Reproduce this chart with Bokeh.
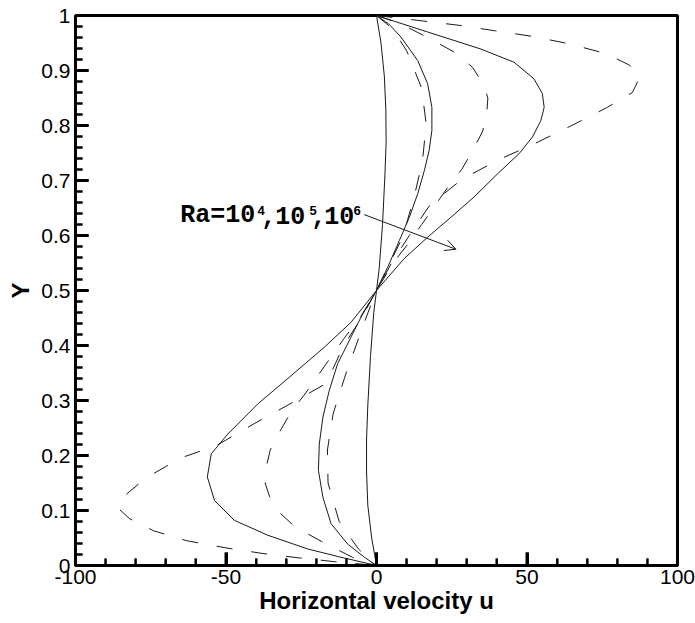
from bokeh.plotting import figure
from bokeh.models import Range1d, FixedTicker, Arrow, OpenHead
from bokeh.core.properties import value
from bokeh.embed import file_html
from bokeh.resources import INLINE

# ---------------- data ----------------
y_s1 = [1.0, 0.95, 0.89, 0.83, 0.77, 0.71, 0.62, 0.54, 0.5, 0.46, 0.38, 0.29, 0.23, 0.17, 0.11, 0.05, 0.0]
u_s1 = [0.0, 1.5, 2.6, 3.1, 3.2, 2.8, 2.0, 0.9, 0.0, -0.9, -2.0, -2.9, -3.3, -3.3, -2.9, -1.6, 0.0]

y_s2 = [1.0, 0.985, 0.961, 0.918, 0.876, 0.833, 0.791, 0.755, 0.718, 0.676, 0.633, 0.591, 0.542, 0.5,
        0.452, 0.415, 0.367, 0.318, 0.27, 0.221, 0.173, 0.124, 0.076, 0.039, 0.015, 0.0]
u_s2 = [0.0, 4.0, 8.1, 13.7, 17.0, 18.4, 18.4, 17.5, 15.9, 13.7, 10.9, 7.6, 3.7, 0.0,
        -5.1, -8.5, -12.9, -15.7, -17.8, -19.0, -19.3, -17.8, -15.1, -9.6, -4.0, 0.0]

y_s3 = [1.0, 0.970, 0.939, 0.915, 0.885, 0.858, 0.833, 0.809, 0.779, 0.749, 0.712, 0.670, 0.633, 0.597, 0.558, 0.5,
        0.442, 0.397, 0.345, 0.294, 0.239, 0.203, 0.161, 0.118, 0.082, 0.055, 0.030, 0.015, 0.0]
u_s3 = [0.0, 17.0, 34.7, 45.7, 52.3, 55.1, 55.7, 54.6, 51.8, 47.4, 40.2, 32.4, 24.7, 17.0, 9.2, 0.0,
        -8.5, -17.3, -28.4, -39.4, -49.4, -54.9, -56.2, -53.8, -47.2, -36.1, -22.8, -11.8, 0.0]

y_d1 = [1.0, 0.975, 0.935, 0.868, 0.803, 0.736, 0.670, 0.597, 0.545, 0.5,
        0.45, 0.40, 0.345, 0.276, 0.21, 0.15, 0.08, 0.03, 0.0]
u_d1 = [0.0, 5.5, 10.1, 15.0, 16.5, 15.3, 12.5, 8.7, 4.0, 0.0,
        -3.5, -6.8, -10.4, -14.4, -16.3, -16.1, -12.4, -6.0, 0.0]

y_d2 = [1.0, 0.985, 0.96, 0.93, 0.905, 0.875, 0.85, 0.82, 0.79, 0.76, 0.72, 0.69, 0.655, 0.62, 0.585, 0.55, 0.5,
        0.45, 0.415, 0.38, 0.345, 0.31, 0.28, 0.24, 0.21, 0.18, 0.15, 0.125, 0.095, 0.07, 0.04, 0.015, 0.0]
u_d2 = [0.0, 8.0, 17.0, 27.0, 32.0, 35.5, 37.0, 36.6, 35.3, 32.5, 28.3, 24.0, 19.5, 15.0, 10.5, 5.5, 0.0,
        -5.5, -10.5, -15.0, -19.5, -24.0, -28.3, -32.5, -35.3, -36.6, -37.0, -35.5, -32.0, -27.0, -17.0, -8.0, 0.0]

y_d3 = [1.0, 0.990, 0.982, 0.972, 0.962, 0.949, 0.931, 0.91, 0.888, 0.86, 0.833, 0.799, 0.768, 0.738, 0.703, 0.656, 0.600, 0.55, 0.5,
        0.45, 0.40, 0.331, 0.293, 0.258, 0.218, 0.196, 0.16, 0.13, 0.105, 0.085, 0.063, 0.045, 0.032, 0.022, 0.014, 0.007, 0.0]
u_d3 = [0.0, 15.5, 27.7, 39.6, 51.8, 63.6, 76.1, 84.0, 87.5, 85.0, 76.7, 64.5, 52.9, 40.7, 28.6, 17.8, 10.9, 5.0, 0.0,
        -5.0, -10.9, -16.7, -29.0, -40.6, -53.2, -64.8, -76.4, -83.0, -86.0, -82.0, -74.0, -63.0, -50.0, -38.0, -26.0, -14.0, 0.0]

# axes ticks
x_ticks = [-100, -50, 0, 50, 100]
x_tick_labels = ["-100", "-50", "0", "50", "100"]
x_minor = [-90, -80, -70, -60, -40, -30, -20, -10, 10, 20, 30, 40, 60, 70, 80, 90]
y_ticks = [0, 0.1, 0.2, 0.3, 0.4, 0.5, 0.6, 0.7, 0.8, 0.9, 1]
y_tick_labels = ["0", "0.1", "0.2", "0.3", "0.4", "0.5", "0.6", "0.7", "0.8", "0.9", "1"]
y_minor = [0.02, 0.04, 0.06, 0.08, 0.12, 0.14, 0.16, 0.18, 0.22, 0.24, 0.26, 0.28,
           0.32, 0.34, 0.36, 0.38, 0.42, 0.44, 0.46, 0.48, 0.52, 0.54, 0.56, 0.58,
           0.62, 0.64, 0.66, 0.68, 0.72, 0.74, 0.76, 0.78, 0.82, 0.84, 0.86, 0.88,
           0.92, 0.94, 0.96, 0.98]

# annotation
label_pos = (-65.2, 0.636)
label_main = ["Ra=10", ",", "10", ",", "10"]
label_sup = ["4", "5", "6"]
arrow_start = (-4.1, 0.638)
arrow_end = (26.4, 0.575)

# ---------------- figure ----------------
X0, X1, Y0, Y1 = -100, 100, 0, 1
p = figure(width=695, height=623, x_range=Range1d(X0, X1), y_range=Range1d(Y0, Y1),
           output_backend="svg", toolbar_location=None,
           min_border_left=75, min_border_right=18, min_border_top=15, min_border_bottom=58)
p.xgrid.visible = False
p.ygrid.visible = False
p.background_fill_color = "white"
p.border_fill_color = "white"
p.outline_line_color = "black"
p.outline_line_width = 3

line_col = "#1a1a1a"
for u, y in ((u_s1, y_s1), (u_s2, y_s2), (u_s3, y_s3)):
    p.line(u, y, line_color=line_col, line_width=1)
for u, y in ((u_d1, y_d1), (u_d2, y_d2), (u_d3, y_d3)):
    p.line(u, y, line_color=line_col, line_width=1, line_dash="16 19")

# inward tick marks drawn as short poly-lines from the tick arrays
mx = 13 * (X1 - X0) / 602.0
nx = 7 * (X1 - X0) / 602.0
my = 13 * (Y1 - Y0) / 550.0
ny = 7 * (Y1 - Y0) / 550.0
p.multi_line(xs=[[t, t] for t in x_ticks], ys=[[Y0, Y0 + my] for t in x_ticks],
             line_color="black", line_width=3)
p.multi_line(xs=[[t, t] for t in x_minor], ys=[[Y0, Y0 + ny] for t in x_minor],
             line_color="black", line_width=2)
p.multi_line(xs=[[X0, X0 + mx] for t in y_ticks], ys=[[t, t] for t in y_ticks],
             line_color="black", line_width=3)
p.multi_line(xs=[[X0, X0 + nx] for t in y_minor], ys=[[t, t] for t in y_minor],
             line_color="black", line_width=2)

# axes (labels)
p.xaxis.ticker = FixedTicker(ticks=x_ticks, minor_ticks=x_minor)
p.yaxis.ticker = FixedTicker(ticks=y_ticks, minor_ticks=y_minor)
p.xaxis.major_label_overrides = {t: s for t, s in zip(x_ticks, x_tick_labels)}
p.yaxis.major_label_overrides = {t: s for t, s in zip(y_ticks, y_tick_labels)}
p.xaxis.axis_label = "Horizontal velocity u"
p.yaxis.axis_label = "Y"
p.axis.axis_line_width = 3
p.axis.axis_line_color = "black"
p.axis.major_tick_in = 13
p.axis.major_tick_out = 0
p.axis.minor_tick_in = 7
p.axis.minor_tick_out = 0
p.axis.major_tick_line_width = 3
p.axis.minor_tick_line_width = 2
p.axis.major_tick_line_color = "black"
p.axis.minor_tick_line_color = "black"
p.axis.major_label_text_font = "Liberation Sans"
p.axis.major_label_text_font_size = "21px"
p.axis.major_label_text_color = "black"
p.axis.axis_label_text_font = "Liberation Sans"
p.axis.axis_label_text_font_size = "24px"
p.axis.axis_label_text_font_style = "bold"
p.axis.axis_label_text_color = "black"
p.xaxis.major_label_standoff = 4
p.xaxis.axis_label_standoff = 0
p.yaxis.major_label_standoff = 5
p.yaxis.axis_label_standoff = 4

# annotation text
p.text(x=[label_pos[0]] * len(label_main), y=[label_pos[1]] * len(label_main), text=label_main,
       x_offset=[0, 81, 95, 131, 144], y_offset=0,
       text_font=value("Liberation Mono"), text_font_style="bold", text_font_size="25px",
       text_color="black", text_baseline="alphabetic", text_align="left")
p.text(x=[label_pos[0]] * len(label_sup), y=[label_pos[1]] * len(label_sup), text=label_sup,
       x_offset=[77, 129, 173], y_offset=-5,
       text_font=value("Liberation Mono"), text_font_style="bold", text_font_size="13px",
       text_color="black", text_baseline="alphabetic", text_align="left")

p.add_layout(Arrow(end=OpenHead(size=11, line_width=1, line_color=line_col),
                   x_start=arrow_start[0], y_start=arrow_start[1],
                   x_end=arrow_end[0], y_end=arrow_end[1],
                   line_width=1, line_color=line_col))

open("out.html", "w").write(file_html(p, INLINE))
